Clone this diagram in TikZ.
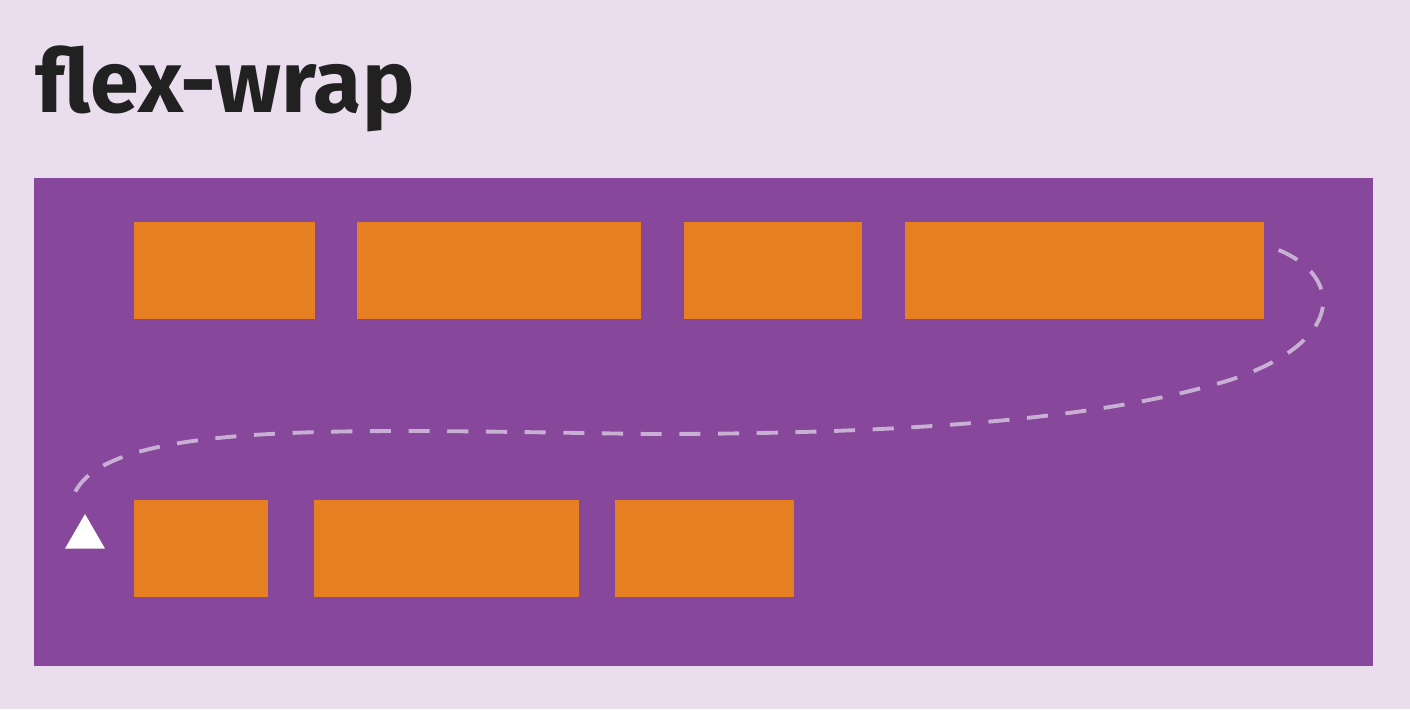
\documentclass[tikz,border=0pt]{standalone}
\usepackage{fontspec}
\setsansfont{Fira Sans}
\usetikzlibrary{positioning}
\usetikzlibrary{shapes.geometric}
\definecolor{pagebg}{HTML}{EADDEE}
\definecolor{flexpurple}{HTML}{87479A}
\definecolor{itemorange}{HTML}{E67F22}
\definecolor{wrapline}{HTML}{C8AFD4}
\tikzset{item/.style={fill=itemorange,inner sep=0pt,outer sep=0pt,minimum height=0.97cm}}

\begin{document}
\begin{tikzpicture}[x=0.01cm,y=-0.01cm]
	\fill[pagebg] (0,0) rectangle (1410,709);
	\useasboundingbox (0,0) rectangle (1410,709);

	\node[anchor=base west,inner sep=0pt,text=black!87,font=\sffamily\bfseries\fontsize{25}{30}\selectfont] (title) at (35,112) {flex-wrap};
	\node[fill=flexpurple,anchor=north west,inner sep=0pt,outer sep=0pt,minimum width=13.38cm,minimum height=4.88cm] (container) at (34,178) {};

	% first line
	\node[item,anchor=north west,minimum width=1.81cm] (item1) at (134,222) {};
	\node[item,minimum width=2.84cm,right=0.42cm of item1] (item2) {};
	\node[item,minimum width=1.78cm,right=0.43cm of item2] (item3) {};
	\node[item,minimum width=3.58cm,right=0.43cm of item3] (item4) {};

	% wrapped line
	\node[item,anchor=north west,minimum width=1.34cm] (item5) at (134,500) {};
	\node[item,minimum width=2.65cm,right=0.46cm of item5] (item6) {};
	\node[item,minimum width=1.79cm,right=0.36cm of item6] (item7) {};

	\node[regular polygon,regular polygon sides=3,fill=white,inner sep=0pt,minimum size=0.46cm] (marker) at (85,537) {};

	\coordinate (wrapstart) at ([xshift=0.15cm,yshift=-0.28cm]item4.north east);
	\coordinate (wrapend) at (72,500);
	\draw[wrapline,line width=1.1pt,dash pattern=on 6pt off 5pt] (wrapstart) .. controls (1340,275) and (1350,340) .. (1230,380)
		.. controls (1100,420) and (900,434) .. (650,434) .. controls (350,430) and (95,418) .. (wrapend);
\end{tikzpicture}
\end{document}
